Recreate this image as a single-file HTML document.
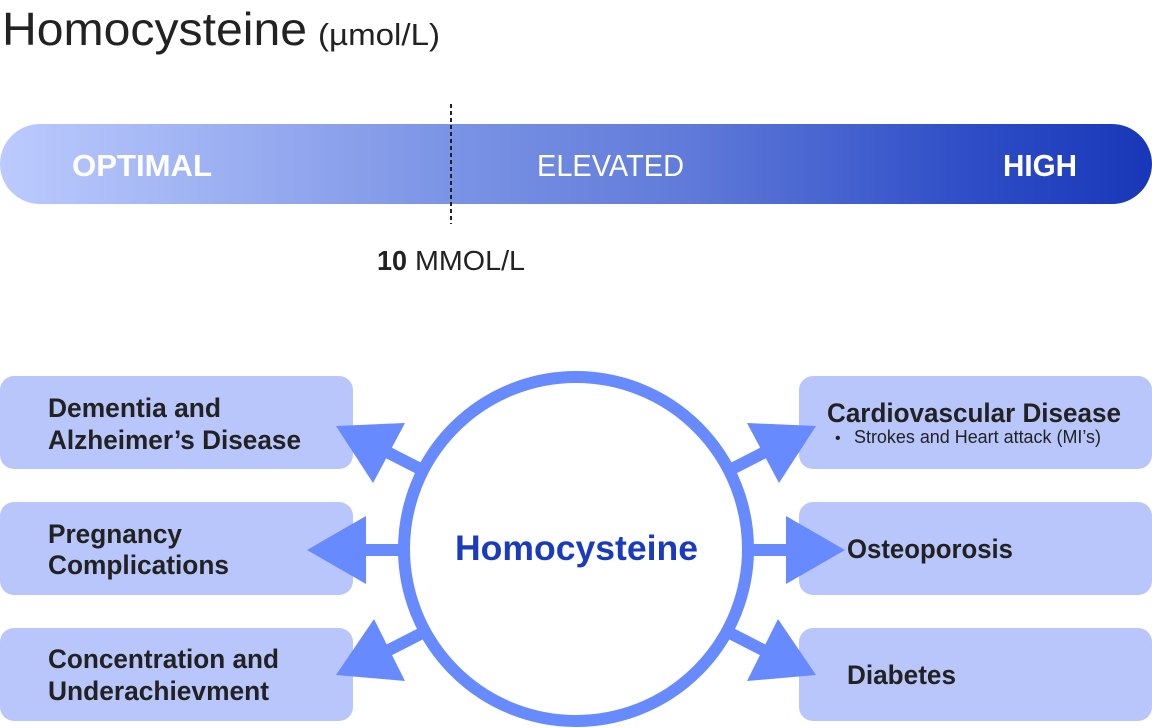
<!DOCTYPE html>
<html>
<head>
<meta charset="utf-8">
<style>
  html,body{margin:0;padding:0;background:#fff;}
  svg{display:block;}
  text{font-family:"Liberation Sans", Arial, sans-serif;}
</style>
</head>
<body>
<svg width="1152" height="728" viewBox="0 0 1152 728" xmlns="http://www.w3.org/2000/svg">
  <defs>
    <linearGradient id="bar" x1="0" y1="0" x2="1" y2="0">
      <stop offset="0" stop-color="#bccbfe"/>
      <stop offset="0.38" stop-color="#7d95e6"/>
      <stop offset="0.6" stop-color="#5f7ad9"/>
      <stop offset="0.85" stop-color="#2d4cc6"/>
      <stop offset="1" stop-color="#1837b8"/>
    </linearGradient>
  </defs>

  <!-- Title -->
  <text x="2" y="45" font-size="46" fill="#222" textLength="305" lengthAdjust="spacingAndGlyphs">Homocysteine</text>
  <text x="318" y="45" font-size="31" fill="#222" textLength="122" lengthAdjust="spacingAndGlyphs">(µmol/L)</text>

  <!-- Bar -->
  <rect x="0" y="124" width="1152" height="80" rx="40" ry="40" fill="url(#bar)"/>
  <text x="72" y="176" font-size="31" font-weight="bold" fill="#fff" textLength="140" lengthAdjust="spacingAndGlyphs">OPTIMAL</text>
  <text x="537" y="176" font-size="31" fill="#fff" textLength="147" lengthAdjust="spacingAndGlyphs">ELEVATED</text>
  <text x="1003" y="176" font-size="31" font-weight="bold" fill="#fff" textLength="74" lengthAdjust="spacingAndGlyphs">HIGH</text>

  <!-- dashed marker -->
  <line x1="451" y1="104" x2="451" y2="224" stroke="#222" stroke-width="2" stroke-dasharray="4,3"/>
  <text x="377" y="270" font-size="28" font-weight="bold" fill="#222" textLength="30" lengthAdjust="spacingAndGlyphs">10</text>
  <text x="415" y="270" font-size="28" fill="#222" textLength="110" lengthAdjust="spacingAndGlyphs">MMOL/L</text>

  <!-- Boxes -->
  <g fill="#b8c6fb">
    <rect x="0" y="376" width="353" height="93" rx="14" ry="14"/>
    <rect x="0" y="502" width="353" height="93" rx="14" ry="14"/>
    <rect x="0" y="628" width="353" height="93" rx="14" ry="14"/>
    <rect x="799" y="376" width="353" height="93" rx="14" ry="14"/>
    <rect x="799" y="502" width="353" height="93" rx="14" ry="14"/>
    <rect x="799" y="628" width="353" height="93" rx="14" ry="14"/>
  </g>

  <!-- Box text -->
  <g font-size="27" font-weight="bold" fill="#222">
    <text x="48" y="417" textLength="173" lengthAdjust="spacingAndGlyphs">Dementia and</text>
    <text x="48" y="449" textLength="253" lengthAdjust="spacingAndGlyphs">Alzheimer’s Disease</text>
    <text x="48" y="543" textLength="134" lengthAdjust="spacingAndGlyphs">Pregnancy</text>
    <text x="48" y="574" textLength="181" lengthAdjust="spacingAndGlyphs">Complications</text>
    <text x="48" y="668" textLength="231" lengthAdjust="spacingAndGlyphs">Concentration and</text>
    <text x="48" y="700" textLength="221" lengthAdjust="spacingAndGlyphs">Underachievment</text>
    <text x="827" y="422" textLength="294" lengthAdjust="spacingAndGlyphs">Cardiovascular Disease</text>
    <text x="847" y="558" textLength="166" lengthAdjust="spacingAndGlyphs">Osteoporosis</text>
    <text x="847" y="684" textLength="109" lengthAdjust="spacingAndGlyphs">Diabetes</text>
  </g>
  <text x="835" y="443" font-size="16" fill="#222">•</text>
  <text x="854" y="443" font-size="18" fill="#222" textLength="247" lengthAdjust="spacingAndGlyphs">Strokes and Heart attack (MI’s)</text>

  <!-- Arrows -->
  <g stroke="#678aff" stroke-width="12">
    <line x1="387" y1="452" x2="428" y2="473"/>
    <line x1="362" y1="550" x2="405" y2="550"/>
    <line x1="387" y1="651" x2="428" y2="630"/>
    <line x1="765" y1="452" x2="724" y2="473"/>
    <line x1="790" y1="550" x2="747" y2="550"/>
    <line x1="765" y1="651" x2="724" y2="630"/>
  </g>
  <g fill="#678aff">
    <polygon points="336,426 405,423 373,483"/>
    <polygon points="307,550 366,516 366,584"/>
    <polygon points="336,675 374,619 405,681"/>
    <polygon points="816,426 747,423 779,483"/>
    <polygon points="845,550 786,516 786,584"/>
    <polygon points="816,675 778,619 747,681"/>
  </g>

  <!-- Circle -->
  <circle cx="576" cy="549" r="172" fill="#fff" stroke="#678aff" stroke-width="12"/>
  <text x="455" y="560" font-size="35" font-weight="bold" fill="#1a3bbf" textLength="243" lengthAdjust="spacingAndGlyphs">Homocysteine</text>
</svg>
</body>
</html>
